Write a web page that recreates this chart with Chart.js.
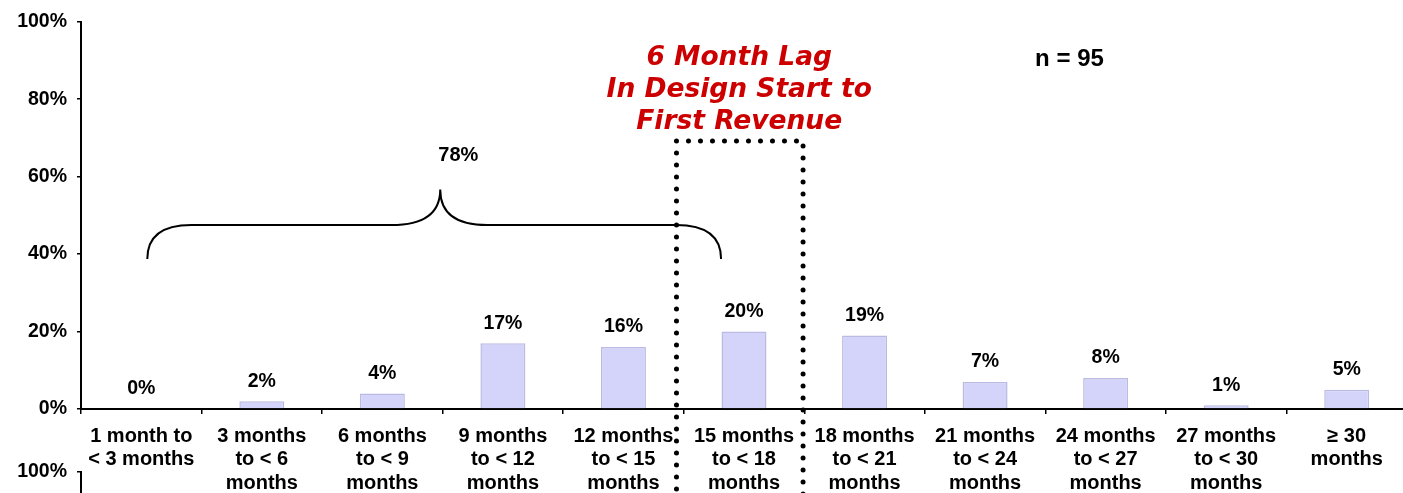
<!DOCTYPE html>
<html>
<head>
<meta charset="utf-8">
<title>Design start to first revenue</title>
<script src="https://cdn.jsdelivr.net/npm/chart.js@4.4.1/dist/chart.umd.min.js"></script>
<style>
  html, body { margin: 0; padding: 0; width: 1403px; height: 493px; overflow: hidden; background: #fff; }
  #topo { position: absolute; left: 0; top: 0; width: 1407px; height: 493px; }
  #seguinte { position: absolute; left: 0; top: 450px; width: 1407px; height: 493px; }
</style>
</head>
<body>
<div id="topo"><canvas id="grafico"></canvas></div>
<div id="seguinte"><canvas id="grafico2"></canvas></div>
<script>
// categorias (meses entre design start e primeira receita)
const categorias = [
  ['1 month to', '< 3 months'],
  ['3 months', 'to < 6', 'months'],
  ['6 months', 'to < 9', 'months'],
  ['9 months', 'to < 12', 'months'],
  ['12 months', 'to < 15', 'months'],
  ['15 months', 'to < 18', 'months'],
  ['18 months', 'to < 21', 'months'],
  ['21 months', 'to < 24', 'months'],
  ['24 months', 'to < 27', 'months'],
  ['27 months', 'to < 30', 'months'],
  ['\u2265 30', 'months']
];
const percentuais = [0, 2, 4, 17, 16, 20, 19, 7, 8, 1, 5];
const eixoY = { min: 0, max: 100, passo: 20 };

// textos das anotacoes
const totalChave = '78%';
const amostra = 'n = 95';
const tituloLag = ['6 Month Lag', 'In Design Start to', 'First Revenue'];

// posicoes das anotacoes em unidades do grafico (categoria, %)
const chave = { de: 0.05, ate: 4.81, pico: 2.48, linha: 47.5, topo: 56.7, pontas: 38.7, rotuloX: 2.63, rotuloY: 65.5 };
const caixaLag = { de: 4.44, ate: 5.49, topo: 69.2, tituloX: 4.96, linhas: [88.9, 80.6, 72.2] };
const posAmostra = { x: 7.7, y: 88.6 };

const fonte = '"Liberation Sans", Arial, sans-serif';
Chart.defaults.font.family = fonte;
Chart.defaults.color = '#000';

function escalas() {
  return {
    x: {
      offset: true,
      border: { display: true, color: '#000', width: 2 },
      grid: { offset: true, drawOnChartArea: false, drawTicks: true, tickLength: 5, color: '#000', lineWidth: 1.5 },
      ticks: { padding: 10.5, font: { size: 20, weight: 'bold', lineHeight: 1.17 }, color: '#000', maxRotation: 0, autoSkip: false },
      afterFit: s => { s.height = 84; }
    },
    y: {
      min: eixoY.min,
      max: eixoY.max,
      border: { display: true, color: '#000', width: 2 },
      grid: { drawOnChartArea: false, drawTicks: true, tickLength: 4, color: '#000', lineWidth: 1.5 },
      ticks: { stepSize: eixoY.passo, padding: 10, font: { size: 19.5, weight: 'bold' }, color: '#000', callback: v => v + '%' },
      afterFit: s => { s.width = 81; }
    }
  };
}

const anotacoes = {
  id: 'anotacoes',
  afterDraw(chart) {
    const { ctx, scales: { x, y } } = chart;
    ctx.save();

    // valores em cima das barras
    ctx.font = 'bold 19.5px ' + fonte;
    ctx.fillStyle = '#000';
    ctx.textAlign = 'center';
    ctx.textBaseline = 'middle';
    chart.getDatasetMeta(0).data.forEach((barra, i) => {
      ctx.fillText(percentuais[i] + '%', barra.x, barra.y - 20);
    });

    // chave sobre as primeiras faixas
    const xl = x.getPixelForValue(chave.de);
    const xr = x.getPixelForValue(chave.ate);
    const xp = x.getPixelForValue(chave.pico);
    const yl = y.getPixelForValue(chave.linha);
    const yt = y.getPixelForValue(chave.topo);
    const yb = y.getPixelForValue(chave.pontas);
    ctx.strokeStyle = '#000';
    ctx.lineWidth = 2;
    ctx.beginPath();
    ctx.moveTo(xl, yb);
    ctx.quadraticCurveTo(xl, yl, xl + 44, yl);
    ctx.lineTo(xp - 49, yl);
    ctx.quadraticCurveTo(xp, yl, xp, yt);
    ctx.quadraticCurveTo(xp, yl, xp + 47, yl);
    ctx.lineTo(xr - 45, yl);
    ctx.quadraticCurveTo(xr, yl, xr, yb);
    ctx.stroke();
    ctx.font = 'bold 20px ' + fonte;
    ctx.fillText(totalChave, x.getPixelForValue(chave.rotuloX), y.getPixelForValue(chave.rotuloY));

    // caixa pontilhada do atraso de 6 meses
    const bl = x.getPixelForValue(caixaLag.de);
    const br = x.getPixelForValue(caixaLag.ate);
    const bt = y.getPixelForValue(caixaLag.topo);
    ctx.setLineDash([0, 12]);
    ctx.lineCap = 'round';
    ctx.lineWidth = 5;
    ctx.beginPath();
    ctx.moveTo(bl, bt);
    ctx.lineTo(bl, chart.height + 10);
    ctx.moveTo(bl + 12, bt);
    ctx.lineTo(br - 6, bt);
    ctx.moveTo(br, bt + 5);
    ctx.lineTo(br, chart.height + 10);
    ctx.stroke();
    ctx.setLineDash([]);

    // titulo em vermelho
    ctx.fillStyle = '#cc0000';
    ctx.font = 'italic bold 26.5px "DejaVu Sans", sans-serif';
    ctx.textBaseline = 'alphabetic';
    const tx = x.getPixelForValue(caixaLag.tituloX);
    tituloLag.forEach((linha, i) => {
      ctx.fillText(linha, tx, y.getPixelForValue(caixaLag.linhas[i]));
    });

    // tamanho da amostra
    ctx.fillStyle = '#000';
    ctx.font = 'bold 24px ' + fonte;
    ctx.fillText(amostra, x.getPixelForValue(posAmostra.x), y.getPixelForValue(posAmostra.y));

    ctx.restore();
  }
};

new Chart(document.getElementById('grafico'), {
  type: 'bar',
  data: {
    labels: categorias,
    datasets: [{
      data: percentuais,
      backgroundColor: '#d4d4fb',
      borderColor: '#babae2',
      borderWidth: 1.5,
      categoryPercentage: 1,
      barPercentage: 0.373
    }]
  },
  options: {
    responsive: true,
    maintainAspectRatio: false,
    animation: false,
    layout: { padding: { top: 19, left: 0, right: 0, bottom: 0 } },
    plugins: { legend: { display: false }, tooltip: { enabled: false } },
    scales: escalas()
  },
  plugins: [anotacoes]
});

// grafico seguinte (so aparece o topo do eixo)
new Chart(document.getElementById('grafico2'), {
  type: 'bar',
  data: { labels: categorias, datasets: [] },
  options: {
    responsive: true,
    maintainAspectRatio: false,
    animation: false,
    layout: { padding: { top: 19, left: 0, right: 0, bottom: 0 } },
    plugins: { legend: { display: false }, tooltip: { enabled: false } },
    scales: escalas()
  }
});
</script>
</body>
</html>
